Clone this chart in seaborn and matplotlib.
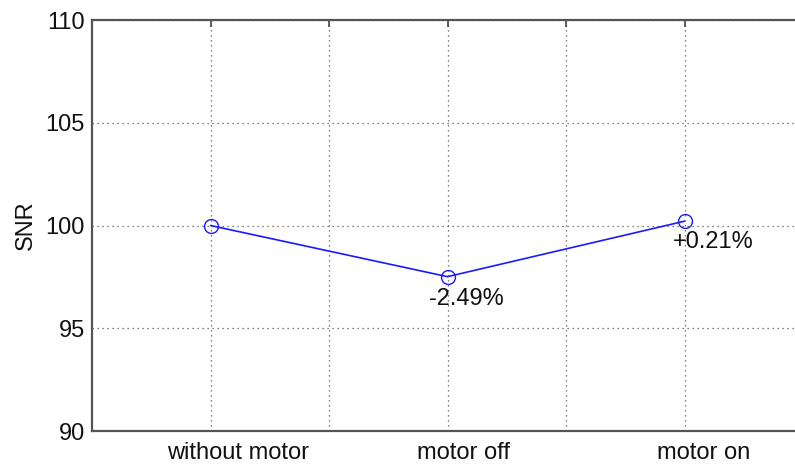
import numpy as np
import pandas as pd
import matplotlib
matplotlib.use("Agg")
import matplotlib.pyplot as plt
import matplotlib.transforms as mtransforms
import seaborn as sns

# Measured SNR for the three motor configurations
categories = ["without motor", "motor off", "motor on"]
snr = [100.0, 97.51, 100.21]
change_labels = ["", "-2.49%", "+0.21%"]
y_ticks = [90, 95, 100, 105, 110]

sns.set_theme(style="white")
plt.rcParams["font.family"] = ["Liberation Sans", "DejaVu Sans"]

df = pd.DataFrame({"pos": np.arange(len(categories)), "SNR": snr})

fig = plt.figure(figsize=(7.95, 4.68), dpi=100)
ax = fig.add_axes([92 / 795, 37 / 468, 711 / 795, 411 / 468])

sns.lineplot(data=df, x="pos", y="SNR", ax=ax, color="#1a1aff", lw=1.2,
             marker="o", markersize=10, markerfacecolor="none",
             markeredgecolor="#1a1aff", markeredgewidth=1.0)

# Percentage change annotations below the points
offsets = [(0, 0), (0.08, -1.09), (0.12, -0.99)]
for i, lab in enumerate(change_labels):
    if lab:
        ax.text(i + offsets[i][0], snr[i] + offsets[i][1], lab,
                ha="center", va="center", fontsize=17, color="#111111")

ticks_x = np.arange(0.0, 2.01, 0.5)
ax.set_xlim(-0.5, 2.5)
ax.set_ylim(90, 110)
ax.set_xticks(ticks_x)
ax.set_xticklabels([categories[int(t)] if float(t).is_integer() else ""
                    for t in ticks_x])
ax.set_yticks(y_ticks)
ax.set_xlabel("")
ax.set_ylabel("SNR", fontsize=17, labelpad=6, color="#111111")
ax.tick_params(axis="both", labelsize=17, direction="in", length=5,
               width=1.2, color="#444444", labelcolor="#111111",
               top=True, right=True)
ax.tick_params(axis="y", pad=5)
ax.tick_params(axis="x", pad=8)

# Category names sit a little to the right of their tick marks
shift_px = {0: 28, 2: 16, 4: 19}
for k, lbl in enumerate(ax.get_xticklabels()):
    if k in shift_px:
        lbl.set_transform(lbl.get_transform() + mtransforms.ScaledTranslation(
            shift_px[k] / fig.dpi, 0, fig.dpi_scale_trans))

ax.grid(True, linestyle=(0, (1, 3)), color="#555555", linewidth=0.9)
for s in ax.spines.values():
    s.set_visible(True)
    s.set_color("#555555")
    s.set_linewidth(1.6)

fig.savefig("out.png", dpi=100)
